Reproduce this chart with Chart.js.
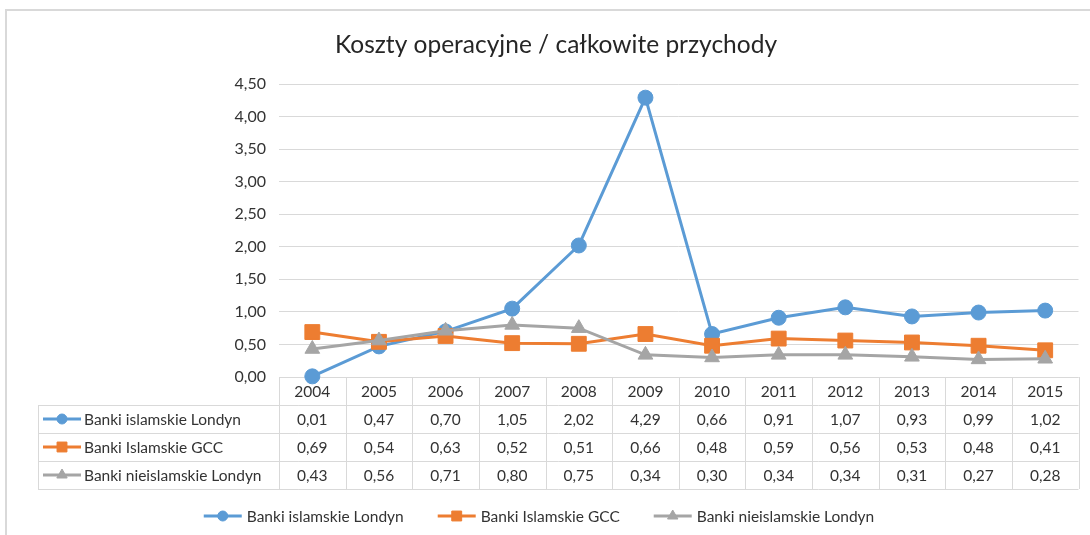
<!DOCTYPE html>
<html lang="pl">
<head>
<meta charset="utf-8">
<title>Koszty operacyjne / całkowite przychody</title>
<script src="https://cdn.jsdelivr.net/npm/chart.js@4.4.1/dist/chart.umd.min.js"></script>
<style>
  html, body { margin: 0; padding: 0; background: #fff; }
  canvas { display: block; }
</style>
</head>
<body>
<canvas id="chart" width="1090" height="535"></canvas>
<script>
const years = ["2004", "2005", "2006", "2007", "2008", "2009", "2010", "2011", "2012", "2013", "2014", "2015"];
const seriesNames = ["Banki islamskie Londyn", "Banki Islamskie GCC", "Banki nieislamskie Londyn"];
const islamskieLondyn = [0.01, 0.47, 0.70, 1.05, 2.02, 4.29, 0.66, 0.91, 1.07, 0.93, 0.99, 1.02];
const islamskieGcc = [0.69, 0.54, 0.63, 0.52, 0.51, 0.66, 0.48, 0.59, 0.56, 0.53, 0.48, 0.41];
const nieislamskieLondyn = [0.43, 0.56, 0.71, 0.80, 0.75, 0.34, 0.30, 0.34, 0.34, 0.31, 0.27, 0.28];

const FONT = "Lato, Carlito, 'Open Sans', sans-serif";
const TEXT = "#333333";
const GRID = "#d9d9d9";

const fmt = (v) => Number(v).toFixed(2).replace(".", ",");

function serie(label, data, color, style, radius, order) {
  return {
    label,
    data,
    borderColor: color,
    backgroundColor: color,
    borderWidth: 3,
    pointStyle: style,
    pointRadius: radius,
    pointBackgroundColor: color,
    pointBorderColor: color,
    pointBorderWidth: 1,
    tension: 0,
    clip: false,
    order
  };
}

// small "line + marker" sample used in the table and in the legend
function drawSwatch(ctx, x0, y, ds) {
  ctx.save();
  ctx.strokeStyle = ds.borderColor;
  ctx.lineWidth = 3;
  ctx.beginPath();
  ctx.moveTo(x0, y);
  ctx.lineTo(x0 + 38, y);
  ctx.stroke();
  ctx.fillStyle = ds.borderColor;
  ctx.lineWidth = 1;
  const r = ds.pointStyle === "rect" ? 7 : ds.pointStyle === "triangle" ? 6 : 5;
  Chart.helpers.drawPoint(ctx, { pointStyle: ds.pointStyle, rotation: 0, radius: r, borderWidth: 1 }, x0 + 19, y);
  ctx.restore();
}

const tablePlugin = {
  id: "tabelaDanych",
  beforeDatasetsDraw(chart) {
    const { ctx, chartArea, scales } = chart;
    const x = scales.x;
    const step = (chartArea.right - chartArea.left) / years.length;
    const rowH = 28;
    const top = chartArea.bottom;
    const labelLeft = 38;
    ctx.save();
    ctx.strokeStyle = GRID;
    ctx.lineWidth = 1;
    ctx.beginPath();
    // horizontal rules
    ctx.moveTo(chartArea.left, top + 0.5);
    ctx.lineTo(chartArea.right, top + 0.5);
    for (let r = 1; r <= 4; r++) {
      const yy = Math.round(top + r * rowH) + 0.5;
      ctx.moveTo(labelLeft, yy);
      ctx.lineTo(chartArea.right, yy);
    }
    // vertical rules
    ctx.moveTo(labelLeft + 0.5, top + rowH);
    ctx.lineTo(labelLeft + 0.5, top + 4 * rowH);
    for (let i = 0; i <= years.length; i++) {
      const xx = Math.round(chartArea.left + i * step) + 0.5;
      ctx.moveTo(xx, top);
      ctx.lineTo(xx, top + 4 * rowH);
    }
    ctx.stroke();

    ctx.fillStyle = TEXT;
    ctx.font = "15.5px " + FONT;
    ctx.textBaseline = "middle";
    ctx.textAlign = "center";
    years.forEach((yr, i) => {
      ctx.fillText(yr, x.getPixelForValue(i), top + rowH / 2 + 1);
    });
    chart.data.datasets.forEach((ds, r) => {
      const cy = top + (r + 1.5) * rowH;
      ctx.textAlign = "center";
      ds.data.forEach((v, i) => ctx.fillText(fmt(v), x.getPixelForValue(i), cy + 1));
      drawSwatch(ctx, 43, cy, ds);
      ctx.fillStyle = TEXT;
      ctx.textAlign = "left";
      ctx.fillText(ds.label, 84, cy + 1);
    });
    ctx.restore();
  },
  afterDraw(chart) {
    const { ctx } = chart;
    ctx.save();
    // outer frame
    ctx.strokeStyle = GRID;
    ctx.lineWidth = 2;
    ctx.beginPath();
    ctx.moveTo(6, 535);
    ctx.lineTo(6, 10);
    ctx.lineTo(1090, 10);
    ctx.stroke();

    // title
    ctx.fillStyle = "#262626";
    ctx.font = "24.5px " + FONT;
    ctx.textAlign = "center";
    ctx.textBaseline = "middle";
    ctx.fillText("Koszty operacyjne / całkowite przychody", 556, 45);

    // legend
    ctx.font = "15.5px " + FONT;
    ctx.textBaseline = "middle";
    const gap = 34;
    const items = chart.data.datasets.map((ds) => ({ ds, w: 43 + ctx.measureText(ds.label).width }));
    const total = items.reduce((s, it) => s + it.w, 0) + gap * (items.length - 1);
    let lx = 539 - total / 2;
    items.forEach(({ ds, w }) => {
      drawSwatch(ctx, lx, 516, ds);
      ctx.fillStyle = TEXT;
      ctx.textAlign = "left";
      ctx.fillText(ds.label, lx + 43, 517);
      lx += w + gap;
    });
    ctx.restore();
  }
};

new Chart(document.getElementById("chart"), {
  type: "line",
  data: {
    labels: years,
    datasets: [
      serie(seriesNames[0], islamskieLondyn, "#5b9bd5", "circle", 7.5, 3),
      serie(seriesNames[1], islamskieGcc, "#ed7d31", "rect", 10.5, 2),
      serie(seriesNames[2], nieislamskieLondyn, "#a5a5a5", "triangle", 8.5, 1)
    ]
  },
  options: {
    responsive: false,
    devicePixelRatio: 1,
    animation: false,
    layout: { padding: { top: 84, right: 8, bottom: 46, left: 0 } },
    plugins: {
      legend: { display: false },
      title: { display: false },
      tooltip: { enabled: false }
    },
    scales: {
      x: {
        type: "category",
        offset: true,
        grid: { display: false },
        border: { display: false },
        ticks: { display: false },
        afterFit(scale) { scale.height = 112; }
      },
      y: {
        min: 0,
        max: 4.5,
        border: { display: false },
        grid: { color: GRID, lineWidth: 1, drawTicks: false },
        ticks: {
          stepSize: 0.5,
          padding: 13,
          color: TEXT,
          font: { family: FONT, size: 16 },
          callback: (v) => fmt(v)
        },
        afterFit(scale) { scale.width = 279; }
      }
    }
  },
  plugins: [tablePlugin]
});
</script>
</body>
</html>
